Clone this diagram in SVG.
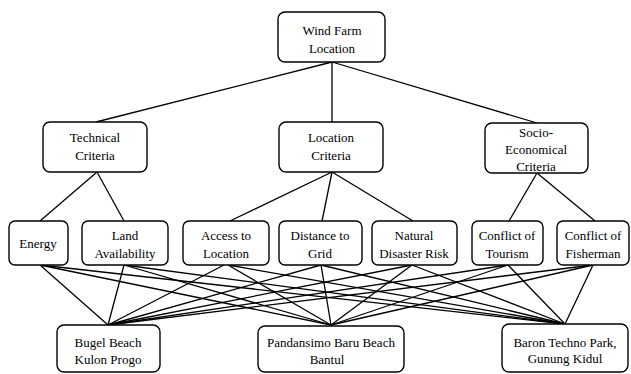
<svg xmlns="http://www.w3.org/2000/svg" width="631" height="374" viewBox="0 0 631 374">
<style>
.box{fill:#fff;stroke:#000;stroke-width:1.4}
.t{font-family:'Liberation Serif','DejaVu Serif',serif;font-size:13px;fill:#000;text-anchor:middle}
.c line{stroke:#000;stroke-width:1.3}
</style>
<rect width="631" height="374" fill="#fff"/>
<g class="c" id="connectors">
<line x1="332" y1="62" x2="96" y2="122"/>
<line x1="332" y1="62" x2="332" y2="122"/>
<line x1="332" y1="62" x2="537" y2="123"/>
<line x1="97" y1="172" x2="40" y2="221"/>
<line x1="97" y1="172" x2="124" y2="221"/>
<line x1="332" y1="172" x2="230" y2="221"/>
<line x1="332" y1="172" x2="322" y2="221"/>
<line x1="332" y1="172" x2="413" y2="221"/>
<line x1="537" y1="173" x2="509" y2="221"/>
<line x1="537" y1="173" x2="595" y2="221"/>
<line x1="40" y1="265" x2="108" y2="325"/>
<line x1="40" y1="265" x2="331" y2="325"/>
<line x1="40" y1="265" x2="565" y2="324"/>
<line x1="124" y1="265" x2="108" y2="325"/>
<line x1="124" y1="265" x2="331" y2="325"/>
<line x1="124" y1="265" x2="565" y2="324"/>
<line x1="224" y1="265" x2="108" y2="325"/>
<line x1="228" y1="265" x2="331" y2="325"/>
<line x1="228" y1="265" x2="565" y2="324"/>
<line x1="321" y1="265" x2="108" y2="325"/>
<line x1="321" y1="265" x2="331" y2="325"/>
<line x1="321" y1="265" x2="565" y2="324"/>
<line x1="412" y1="265" x2="108" y2="325"/>
<line x1="412" y1="265" x2="331" y2="325"/>
<line x1="412" y1="265" x2="565" y2="324"/>
<line x1="508" y1="265" x2="108" y2="325"/>
<line x1="508" y1="265" x2="331" y2="325"/>
<line x1="508" y1="265" x2="565" y2="324"/>
<line x1="593" y1="265" x2="108" y2="325"/>
<line x1="593" y1="265" x2="331" y2="325"/>
<line x1="593" y1="265" x2="565" y2="324"/>
</g>
<g id="root"><rect class="box" x="278" y="12" width="107" height="50" rx="7"/><text class="t" x="332" y="35">Wind Farm</text><text class="t" x="332" y="53">Location</text></g>
<g id="technical"><rect class="box" x="43" y="122" width="104" height="50" rx="7"/><text class="t" x="95" y="142">Technical</text><text class="t" x="95" y="160">Criteria</text></g>
<g id="location"><rect class="box" x="279" y="122" width="104" height="50" rx="7"/><text class="t" x="331" y="142">Location</text><text class="t" x="331" y="160">Criteria</text></g>
<g id="socio"><rect class="box" x="485" y="123" width="103" height="50" rx="7"/><text class="t" x="536" y="137">Socio-</text><text class="t" x="536" y="154">Economical</text><text class="t" x="536" y="171">Criteria</text></g>
<g id="energy"><rect class="box" x="9" y="221" width="59" height="44" rx="6"/><text class="t" x="38" y="248">Energy</text></g>
<g id="land"><rect class="box" x="82" y="221" width="86" height="44" rx="6"/><text class="t" x="125" y="240">Land</text><text class="t" x="125" y="258">Availability</text></g>
<g id="access"><rect class="box" x="183" y="221" width="86" height="44" rx="6"/><text class="t" x="226" y="240">Access to</text><text class="t" x="226" y="258">Location</text></g>
<g id="distance"><rect class="box" x="279" y="221" width="83" height="44" rx="6"/><text class="t" x="320" y="240">Distance to</text><text class="t" x="320" y="258">Grid</text></g>
<g id="natural"><rect class="box" x="372" y="221" width="85" height="44" rx="6"/><text class="t" x="414" y="240">Natural</text><text class="t" x="414" y="258">Disaster Risk</text></g>
<g id="tourism"><rect class="box" x="472" y="221" width="71" height="44" rx="6"/><text class="t" x="507" y="240">Conflict of</text><text class="t" x="507" y="258">Tourism</text></g>
<g id="fisherman"><rect class="box" x="557" y="221" width="72" height="44" rx="6"/><text class="t" x="593" y="240">Conflict of</text><text class="t" x="593" y="258">Fisherman</text></g>
<g id="bugel"><rect class="box" x="57" y="325" width="103" height="47" rx="7"/><text class="t" x="108" y="347">Bugel Beach</text><text class="t" x="108" y="364">Kulon Progo</text></g>
<g id="pandansimo"><rect class="box" x="258" y="326" width="146" height="46" rx="7"/><text class="t" x="331" y="347">Pandansimo Baru Beach</text><text class="t" x="327" y="364">Bantul</text></g>
<g id="baron"><rect class="box" x="502" y="324" width="126" height="48" rx="7"/><text class="t" x="565" y="347">Baron Techno Park,</text><text class="t" x="565" y="363">Gunung Kidul</text></g>
</svg>
